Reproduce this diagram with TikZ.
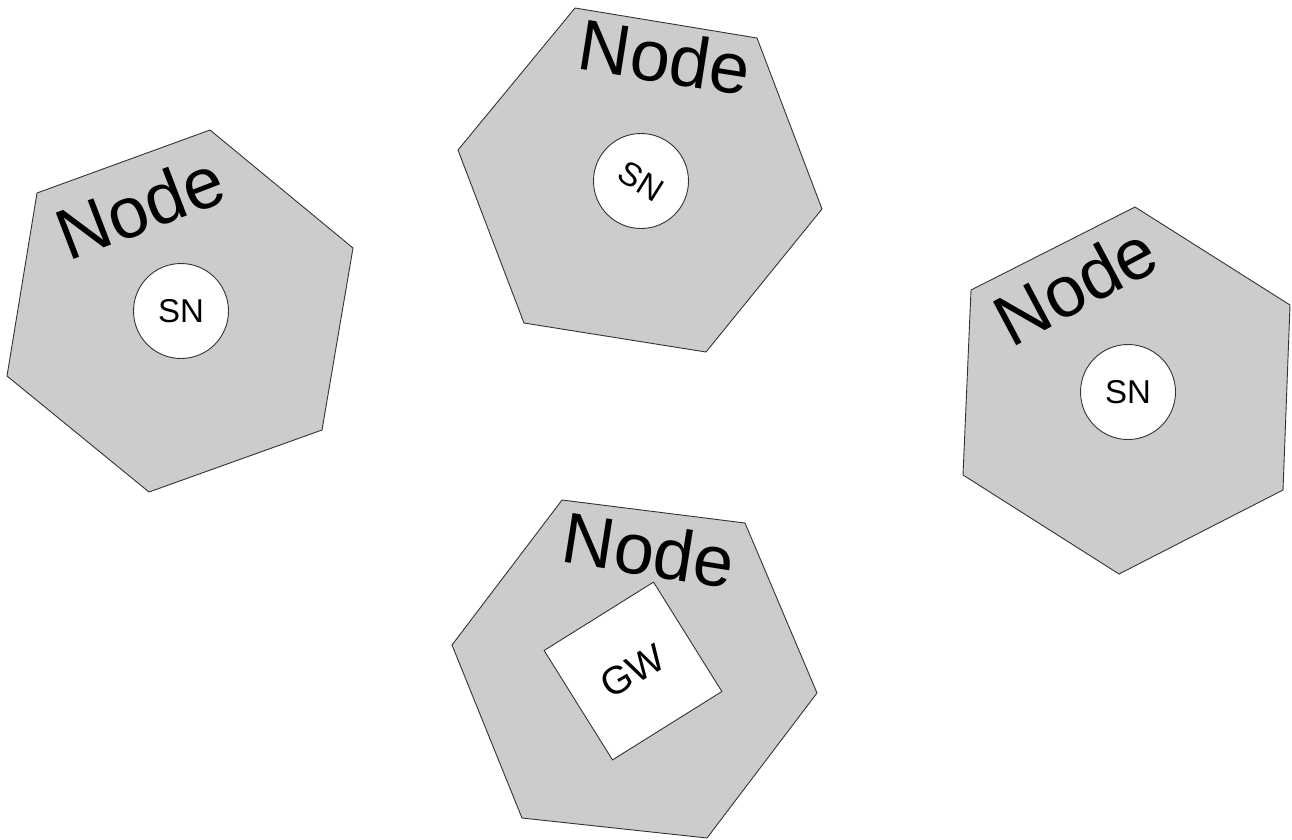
\documentclass[tikz,border=0pt]{standalone}
\usepackage{fontspec}
\setmainfont{Liberation Sans}
\definecolor{hexfill}{HTML}{CCCCCC}
\definecolor{edge}{HTML}{333333}
\tikzset{
  hexcell/.style={fill=hexfill, draw=edge, line width=0.9pt, line join=miter},
  nodelabel/.style={inner sep=0pt, font=\fontsize{72}{72}\selectfont},
  sncircle/.style={circle, fill=white, draw=edge, line width=0.9pt, minimum size=95pt, inner sep=0pt, font=\fontsize{33}{33}\selectfont},
  gwbox/.style={rectangle, fill=white, draw=edge, line width=0.9pt, minimum size=129pt, inner sep=0pt},
  gwtext/.style={inner sep=0pt, font=\fontsize{39}{39}\selectfont}
}
\begin{document}
\begin{tikzpicture}[x=1pt,y=-1pt]
\useasboundingbox (0,0) rectangle (1292,839);
% left hexagon
\draw[hexcell] (210,130) -- (353,248) -- (322,430) -- (149,492) -- (7,376) -- (37,193) -- cycle;
\node[sncircle] (sn1) at (181,311) {SN};
\node[nodelabel, rotate=21] (lab1) at (140,207) {Node};
% top hexagon
\draw[hexcell] (575,8) -- (757,38) -- (822,209) -- (706,352) -- (524,323) -- (458,150) -- cycle;
\node[sncircle] (sn2c) at (641,181) {};
\node[inner sep=0pt, font=\fontsize{33}{33}\selectfont, rotate=-32] (sn2) at (sn2c) {SN};
\node[nodelabel, rotate=-9] (lab2) at (665,57) {Node};
% right hexagon
\draw[hexcell] (1135,207) -- (1290,305) -- (1283,490) -- (1119,574) -- (963,475) -- (971,290) -- cycle;
\node[sncircle] (sn3) at (1128,392) {SN};
\node[nodelabel, rotate=28] (lab3) at (1075,285) {Node};
% bottom hexagon
\draw[hexcell] (562,500) -- (745,523) -- (817,693) -- (707,838) -- (522,818) -- (452,645) -- cycle;
\node[gwbox, rotate=32] (gw) at (633,671) {};
\node[gwtext, rotate=30] (gwt) at (gw.center) {GW};
\node[nodelabel, rotate=-9] (lab4) at (649,550) {Node};
\end{tikzpicture}
\end{document}
